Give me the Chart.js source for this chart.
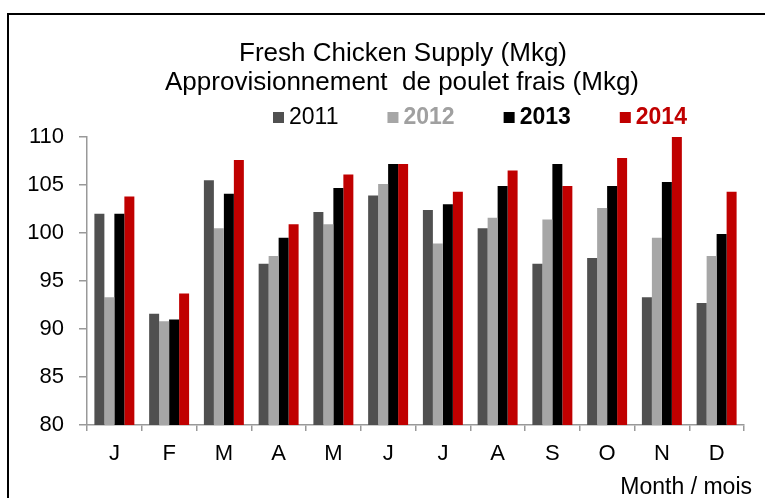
<!DOCTYPE html>
<html>
<head>
<meta charset="utf-8">
<script src="https://cdn.jsdelivr.net/npm/chart.js@4"></script>
<style>
    html, body { margin: 0; padding: 0; background: #fff; overflow: hidden; }
    #wrap { position: relative; width: 765px; height: 498px; }
    #frame { position: absolute; left: 7px; top: 13px; width: 820px; height: 600px; border: 2px solid #000; box-sizing: border-box; }
    #chart { position: absolute; left: 0; top: 0; }
</style>
</head>
<body>
<div id="wrap">
    <div id="frame"></div>
    <canvas id="chart" width="765" height="498"></canvas>
</div>
<script>
// Dados
const months = ['J', 'F', 'M', 'A', 'M', 'J', 'J', 'A', 'S', 'O', 'N', 'D'];
const years = ['2011', '2012', '2013', '2014'];
const supply2011 = [102.0, 91.6, 105.5, 96.8, 102.2, 103.9, 102.4, 100.5, 96.8, 97.4, 93.3, 92.7];
const supply2012 = [93.3, 90.8, 100.5, 97.6, 100.9, 105.1, 98.9, 101.6, 101.4, 102.6, 99.5, 97.6];
const supply2013 = [102.0, 91.0, 104.1, 99.5, 104.7, 107.2, 103.0, 104.9, 107.2, 104.9, 105.3, 99.9];
const supply2014 = [103.8, 93.7, 107.6, 100.9, 106.1, 107.2, 104.3, 106.5, 104.9, 107.8, 110.0, 104.3];

const titleLines = ['Fresh Chicken Supply (Mkg)', 'Approvisionnement  de poulet frais (Mkg)'];
const axisTitle = 'Month / mois';

const barColors = ['#505050', '#a6a6a6', '#000000', '#c00000'];
const legendTextColors = ['#000000', '#a0a0a0', '#000000', '#c00000'];
const legendWeights = ['normal', 'bold', 'bold', 'bold'];

const FONT = '"Liberation Sans", Arial, sans-serif';

// Título, legenda e rótulo do eixo desenhados à mão
const textPlugin = {
    id: 'textPlugin',
    afterDraw(chart) {
        const ctx = chart.ctx;
        ctx.save();
        ctx.fillStyle = '#000';
        ctx.textAlign = 'center';
        ctx.textBaseline = 'alphabetic';
        ctx.font = '26px ' + FONT;
        ctx.fillText(titleLines[0], 403, 61);
        ctx.fillText(titleLines[1], 402, 90);

        // Legenda
        ctx.textAlign = 'left';
        let x = 273;
        chart.data.datasets.forEach((ds, i) => {
            ctx.fillStyle = ds.backgroundColor;
            ctx.fillRect(x, 112, 11, 11);
            ctx.font = legendWeights[i] + ' 23px ' + FONT;
            ctx.fillStyle = legendTextColors[i];
            ctx.fillText(ds.label, x + 16, 124);
            x += 16 + ctx.measureText(ds.label).width + 49;
        });

        // Rótulo do eixo X
        ctx.textAlign = 'right';
        ctx.fillStyle = '#000';
        ctx.font = '23px ' + FONT;
        ctx.fillText(axisTitle, 752, 494);
        ctx.restore();
    }
};

const ctx = document.getElementById('chart').getContext('2d');
const supplyChart = new Chart(ctx, {
    type: 'bar',
    data: {
        labels: months,
        datasets: [supply2011, supply2012, supply2013, supply2014].map((values, i) => ({
            label: years[i],
            data: values,
            backgroundColor: barColors[i],
            borderWidth: 0,
            barPercentage: 1,
            categoryPercentage: 0.73
        }))
    },
    options: {
        responsive: false,
        animation: false,
        layout: {
            padding: { top: 137, right: 21, bottom: 0, left: 0 }
        },
        plugins: {
            legend: { display: false },
            title: { display: false },
            tooltip: { enabled: false }
        },
        scales: {
            y: {
                min: 80,
                max: 110,
                afterFit(scale) { scale.width = 87; },
                ticks: {
                    stepSize: 5,
                    padding: 15,
                    color: '#000',
                    font: { family: FONT, size: 22 }
                },
                grid: {
                    drawOnChartArea: false,
                    drawTicks: true,
                    tickLength: 8,
                    color: '#999',
                    lineWidth: 1.5
                },
                border: { display: true, color: '#999', width: 1.5 }
            },
            x: {
                afterFit(scale) { scale.height = 73; },
                ticks: {
                    padding: 10,
                    color: '#000',
                    font: { family: FONT, size: 22 }
                },
                grid: {
                    offset: true,
                    drawOnChartArea: false,
                    drawTicks: true,
                    tickLength: 6,
                    color: '#999',
                    lineWidth: 1.5
                },
                border: { display: true, color: '#999', width: 1.5 }
            }
        }
    },
    plugins: [textPlugin]
});
</script>
</body>
</html>
